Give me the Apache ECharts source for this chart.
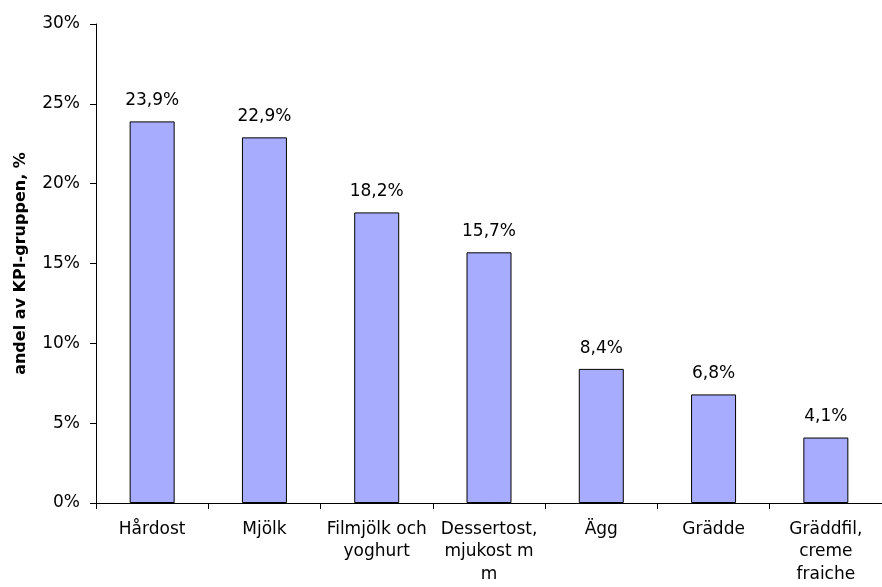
<!DOCTYPE html>
<html>
<head>
<meta charset="utf-8">
<script src="https://cdn.jsdelivr.net/npm/echarts@6/dist/echarts.min.js"></script>
<style>
  html, body { margin: 0; padding: 0; background: #fff; }
  #chart { width: 882px; height: 587px; }
</style>
</head>
<body>
<div id="chart"></div>
<script>
// Share of the KPI group per dairy product (percent)
const categories = [
  'Hårdost',
  'Mjölk',
  'Filmjölk och\nyoghurt',
  'Dessertost,\nmjukost m\nm',
  'Ägg',
  'Grädde',
  'Gräddfil,\ncreme\nfraiche'
];
const shares = [23.9, 22.9, 18.2, 15.7, 8.4, 6.8, 4.1];
const yTicks = [0, 5, 10, 15, 20, 25, 30];

const font = '"DejaVu Sans", Verdana, sans-serif';
const chart = echarts.init(document.getElementById('chart'));

chart.setOption({
  animation: false,
  grid: { left: 96, right: -4, top: 24, bottom: 84, containLabel: false },
  xAxis: {
    type: 'category',
    data: categories,
    axisLine: { lineStyle: { color: '#000', width: 1 } },
    axisTick: { show: true, length: 6, inside: false, lineStyle: { color: '#000' } },
    axisLabel: {
      color: '#000', fontFamily: font, fontSize: 17, margin: 15,
      lineHeight: 22.5, interval: 0
    },
    splitLine: { show: false }
  },
  yAxis: {
    type: 'value',
    min: yTicks[0],
    max: yTicks[yTicks.length - 1],
    interval: 5,
    name: 'andel av KPI-gruppen, %',
    nameLocation: 'middle',
    nameGap: 67,
    nameRotate: 90,
    nameTextStyle: { color: '#000', fontFamily: font, fontSize: 16, fontWeight: 'bold' },
    axisLine: { show: true, lineStyle: { color: '#000', width: 1 } },
    axisTick: { show: true, length: 6, lineStyle: { color: '#000' } },
    axisLabel: {
      color: '#000', fontFamily: font, fontSize: 17, margin: 16,
      formatter: v => v + '%'
    },
    splitLine: { show: false }
  },
  series: [{
    type: 'bar',
    data: shares,
    barWidth: 45,
    itemStyle: { color: '#a8acff', borderColor: '#000', borderWidth: 1 },
    label: {
      show: true,
      position: 'top',
      distance: 12,
      color: '#000',
      fontFamily: font,
      fontSize: 17,
      formatter: p => p.value.toFixed(1).replace('.', ',') + '%'
    }
  }]
});
</script>
</body>
</html>
